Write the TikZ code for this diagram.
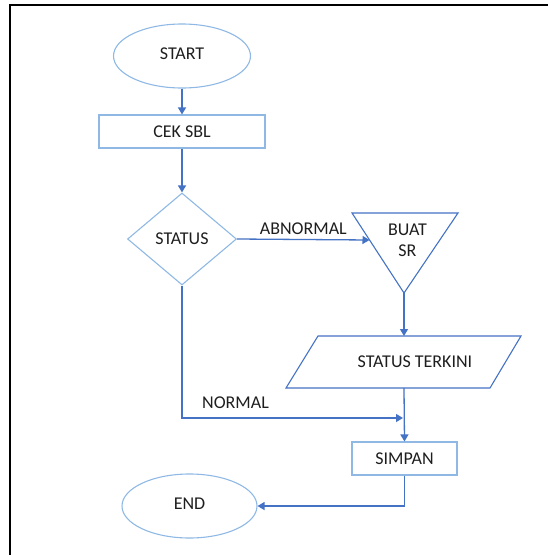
\documentclass[tikz,border=0pt]{standalone}
\usepackage{fontspec}
\setmainfont{Carlito}
\usetikzlibrary{calc,shapes.geometric,arrows.meta,positioning}
\definecolor{lightblue}{RGB}{143,184,228}
\definecolor{mediumblue}{RGB}{68,114,196}
\definecolor{darktext}{RGB}{30,30,30}

\tikzset{
  flowtext/.style={text=darktext, font=\fontsize{18}{21}\selectfont},
  terminal/.style={ellipse, draw=lightblue, line width=1.1pt, flowtext, inner sep=0pt},
  process/.style={rectangle, draw=lightblue, line width=1.1pt, flowtext, inner sep=0pt},
  decision/.style={diamond, draw=lightblue, line width=1.1pt, flowtext, inner sep=0pt, aspect=1.18},
  flowline/.style={mediumblue, line width=1.3pt},
  flowarrow/.style={flowline, -{Triangle[length=7pt,width=8pt]}}
}

\begin{document}
\begin{tikzpicture}[x=1pt, y=-1pt]
  \useasboundingbox (0,0) rectangle (548,555);
  % frame
  \draw[black, line width=2pt] (9.5,556) -- (9.5,5) -- (549,5);

  % nodes
  \node[terminal, minimum width=137, minimum height=64] (start) at (182,56) {\raisebox{5pt}{START}};
  \node[process, minimum width=166, minimum height=33] (cek) at (182,131.5) {CEK SBL};
  \node[decision, minimum width=109, minimum height=92] (status) at (182,239) {STATUS};
  \node[process, minimum width=105, minimum height=33] (simpan) at (404.5,458.5) {SIMPAN};
  \node[terminal, minimum width=135, minimum height=64] (end) at (189.5,506) {\raisebox{5pt}{END}};

  % Buat SR (triangle)
  \draw[mediumblue, line width=1.1pt] (352,213) -- (458,213) -- (404,293) -- cycle;
  \coordinate (buatin) at (369.5,240);
  \coordinate (buattip) at (404,293);
  \node[flowtext, align=center, inner sep=0pt] (buat) at (407.5,240) {BUAT\\[0pt]SR};

  % Status terkini (parallelogram)
  \draw[mediumblue, line width=1.1pt] (318,336) -- (521,336) -- (490,388) -- (286,388) -- cycle;
  \coordinate (terkinitop) at (404,336);
  \coordinate (terkinibot) at (404,388);
  \node[flowtext] (terkini) at (415,362) {STATUS TERKINI};

  % connectors
  \draw[flowarrow] (start) -- (cek);
  \draw[flowarrow] (cek) -- (status);
  \draw[flowarrow] (status.east) -- (buatin)
    node[pos=0.5, above=1pt, flowtext] (abnormal) {ABNORMAL};
  \draw[flowarrow] (buattip) -- (terkinitop);
  \draw[flowarrow] (terkinibot) -- (simpan.north);
  \coordinate (normalend) at (403,418);
  \draw[flowarrow] (status.south) |- (normalend);
  \node[flowtext] (normal) at (235.5,403) {NORMAL};
  \draw[flowarrow] (simpan.south) |- (end.east);
\end{tikzpicture}
\end{document}
